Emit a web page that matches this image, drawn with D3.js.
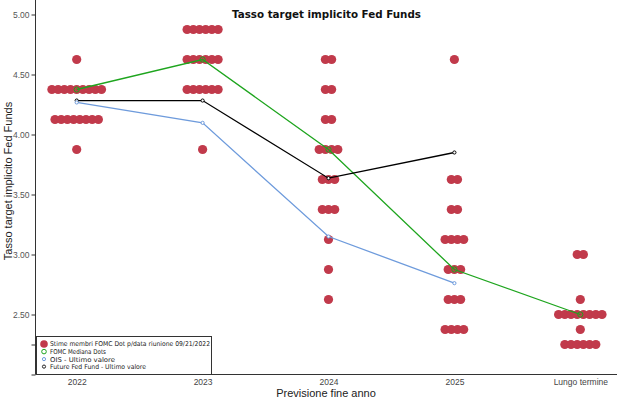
<!DOCTYPE html>
<html><head><meta charset="utf-8">
<script src="https://cdn.jsdelivr.net/npm/d3@7"></script>
<style>html,body{margin:0;padding:0;background:#fff;}svg{display:block;}</style>
</head><body>
<svg id="c" width="640" height="399"></svg>
<script>
const categories = ["2022", "2023", "2024", "2025", "Lungo termine"];
// FOMC participants' dots: [rate, count]
const dots2022 = [[4.625, 1], [4.375, 9], [4.125, 8], [3.875, 1]];
const dots2023 = [[4.875, 6], [4.625, 6], [4.375, 6], [3.875, 1]];
const dots2024 = [[4.625, 2], [4.375, 2], [4.125, 2], [3.875, 4], [3.625, 3], [3.375, 3], [3.125, 1], [2.875, 1], [2.625, 1]];
const dots2025 = [[4.625, 1], [3.625, 2], [3.375, 2], [3.125, 4], [2.875, 3], [2.625, 3], [2.375, 4]];
const dotsLR = [[3.0, 2], [2.625, 1], [2.5, 8], [2.375, 1], [2.25, 6]];
const medianDots = [4.375, 4.625, 3.875, 2.875, 2.5];
const oisValues = [4.267, 4.097, 3.15, 2.761];
const futuresValues = [4.283, 4.283, 3.636, 3.85];
const yTicks = [5.0, 4.5, 4.0, 3.5, 3.0, 2.5];
const yMinorTicks = [2.25, 2.0];
const legendLabels = ["Stime membri FOMC Dot p/data riunione 09/21/2022", "FOMC Mediana Dots", "OIS - Ultimo valore", "Future Fed Fund - Ultimo valore"];

const svg = d3.select("#c");
const x = d3.scalePoint().domain(categories).range([76.7, 580.3]);
const y = d3.scaleLinear().domain([2.0, 5.125]).range([374.5, -0.5]);
const axL = 35.5, axR = 617, axB = 374.5;
const red = "#c13a4b", green = "#1ea51e", blue = "#6e9bdc";

// axes
svg.append("line").attr("x1", axL).attr("x2", axL).attr("y1", 0).attr("y2", axB).attr("stroke", "#333");
svg.append("line").attr("x1", axL).attr("x2", axR).attr("y1", axB).attr("y2", axB).attr("stroke", "#333");
const yAxis = d3.axisLeft(y).tickValues(yTicks).tickFormat(d3.format(".2f")).tickSize(4).tickPadding(2);
const gy = svg.append("g").attr("transform", `translate(${axL},0)`).call(yAxis);
gy.select(".domain").remove();
gy.selectAll("text").attr("font-family", "Liberation Sans, Arial, sans-serif").attr("font-size", 8.5).attr("fill", "#555");
gy.selectAll("line").attr("stroke", "#333");
const gy2 = svg.append("g").attr("transform", `translate(${axL},0)`).call(d3.axisLeft(y).tickValues(yMinorTicks).tickFormat("").tickSize(4));
gy2.select(".domain").remove();
gy2.selectAll("line").attr("stroke", "#333");

const gx = svg.append("g").attr("transform", `translate(0,${axB})`).call(d3.axisBottom(x).tickSize(0).tickPadding(4));
gx.select(".domain").remove();
gx.selectAll("text").attr("font-family", "Liberation Sans, Arial, sans-serif").attr("font-size", 8.5).attr("fill", "#444");

// titles
svg.append("text").attr("x", 326.5).attr("y", 18).attr("text-anchor", "middle")
  .attr("font-family", "DejaVu Sans, Verdana, sans-serif").attr("font-weight", "bold").attr("font-size", 11)
  .attr("textLength", 189).attr("lengthAdjust", "spacingAndGlyphs").attr("fill", "#111")
  .text("Tasso target implicito Fed Funds");
svg.append("text").attr("transform", "translate(12,181) rotate(-90)").attr("text-anchor", "middle")
  .attr("font-family", "Liberation Sans, Arial, sans-serif").attr("font-size", 11).attr("fill", "#222")
  .text("Tasso target implicito Fed Funds");
svg.append("text").attr("x", 326).attr("y", 397).attr("text-anchor", "middle")
  .attr("font-family", "Liberation Sans, Arial, sans-serif").attr("font-size", 11).attr("fill", "#222")
  .text("Previsione fine anno");

// dots
const allDots = [dots2022, dots2023, dots2024, dots2025, dotsLR];
const step = 6.2;
const dotData = [];
allDots.forEach((rows, ci) => rows.forEach(([rate, n]) => {
  for (let i = 0; i < n; i++) dotData.push({cat: categories[ci], rate, off: (i - (n - 1) / 2) * step});
}));
svg.append("g").selectAll("circle").data(dotData).join("circle")
  .attr("cx", d => x(d.cat) + d.off).attr("cy", d => y(d.rate)).attr("r", 4.6)
  .attr("fill", red);

// lines
function series(vals, color, r, fill) {
  const pts = vals.map((v, i) => [x(categories[i]), y(v)]);
  svg.append("path").attr("d", d3.line()(pts)).attr("fill", "none").attr("stroke", color).attr("stroke-width", 1.3);
  svg.append("g").selectAll("circle").data(pts).join("circle")
    .attr("cx", d => d[0]).attr("cy", d => d[1]).attr("r", r)
    .attr("fill", fill).attr("stroke", color).attr("stroke-width", 1);
}
series(medianDots, green, 2.6, "none");
series(futuresValues, "#000", 1.6, "#fff");
series(oisValues, blue, 1.6, "#fff");

// legend
const lg = svg.append("g");
lg.append("rect").attr("x", 36.5).attr("y", 336.5).attr("width", 175).attr("height", 38)
  .attr("fill", "#fff").attr("stroke", "#333");
const lgY = [344, 351.6, 359.1, 366.6];
const lgW = [160, 56, 65, 96];
lgY.forEach((yy, i) => {
  if (i === 0) lg.append("circle").attr("cx", 44).attr("cy", yy).attr("r", 3.8).attr("fill", red);
  else lg.append("circle").attr("cx", 44).attr("cy", yy).attr("r", i === 1 ? 2.3 : 1.6)
    .attr("fill", "#fff").attr("stroke", [null, green, blue, "#222"][i]).attr("stroke-width", 1);
  lg.append("text").attr("x", 50).attr("y", yy + 2.4)
    .attr("font-family", "DejaVu Sans, Verdana, sans-serif").attr("font-size", 6.6).attr("fill", "#222")
    .attr("textLength", lgW[i]).attr("lengthAdjust", "spacingAndGlyphs")
    .text(legendLabels[i]);
});
</script>
</body></html>
